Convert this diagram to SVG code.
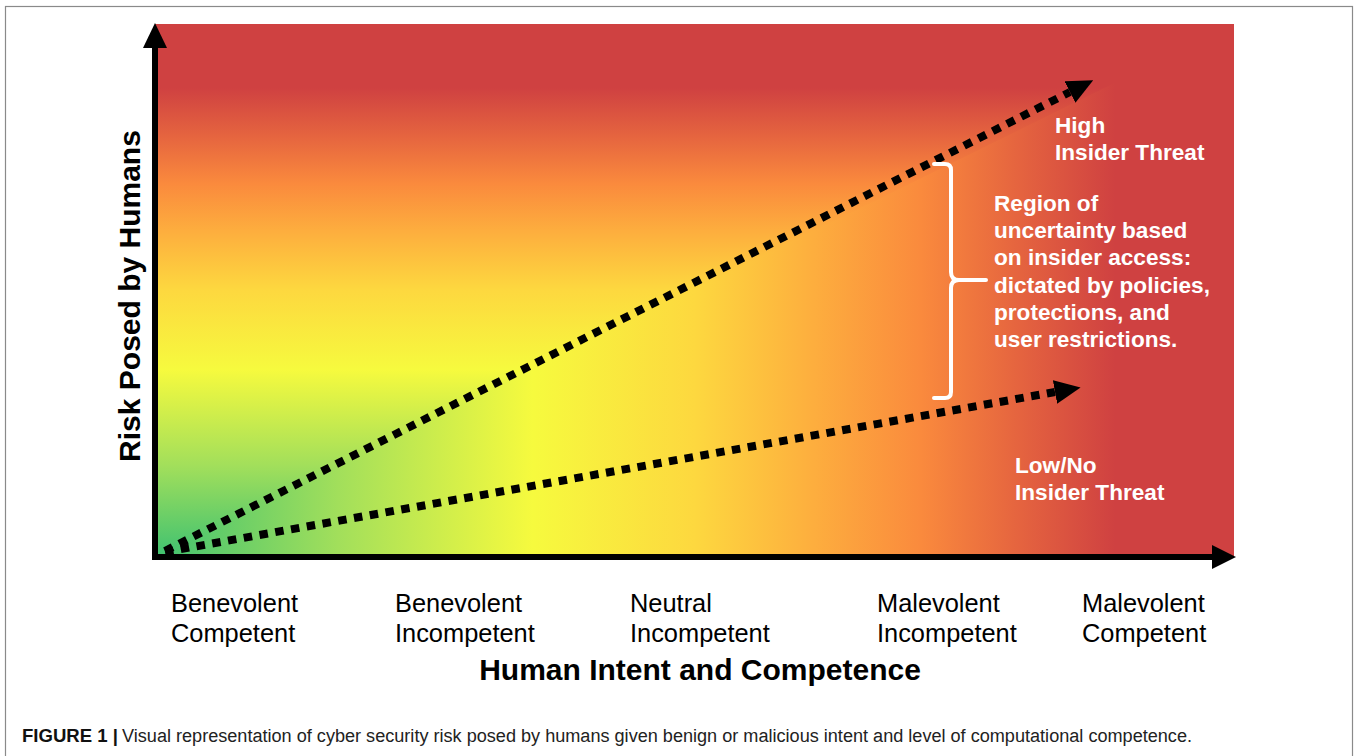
<svg xmlns="http://www.w3.org/2000/svg" width="1359" height="756" viewBox="0 0 1359 756">
  <defs>
    <style>
      .lbl { font-family: "Liberation Sans", Arial, sans-serif; }
      .axis-title { font-family: "Liberation Sans", Arial, sans-serif; font-weight: bold; font-size: 30px; fill: #000; }
      .tick { font-family: "Liberation Sans", Arial, sans-serif; font-size: 25.4px; fill: #000; }
      .note { font-family: "Liberation Sans", Arial, sans-serif; font-weight: bold; font-size: 22.6px; fill: #fff; }
      .dots { fill: none; stroke: #000; stroke-width: 8; stroke-dasharray: 8.5 7.5; }
      .axis { fill: none; stroke: #000; stroke-width: 6; }
      .head { fill: #000; }
    </style>
    <!-- risk colour scale, left to right -->
    <linearGradient id="riskH" gradientUnits="userSpaceOnUse" x1="155" y1="0" x2="1234" y2="0">
      <stop offset="0" stop-color="#40C271"/>
      <stop offset="0.17" stop-color="#A2DF5B"/>
      <stop offset="0.35" stop-color="#F6FA3E"/>
      <stop offset="0.5" stop-color="#FDD83F"/>
      <stop offset="0.61" stop-color="#FDAE3E"/>
      <stop offset="0.71" stop-color="#FA8A3D"/>
      <stop offset="0.8" stop-color="#E5643F"/>
      <stop offset="0.89" stop-color="#CF4141"/>
      <stop offset="1" stop-color="#CF4141"/>
    </linearGradient>
    <!-- same scale, bottom to top -->
    <linearGradient id="riskV" gradientUnits="userSpaceOnUse" x1="0" y1="556" x2="0" y2="24">
      <stop offset="0" stop-color="#40C271"/>
      <stop offset="0.17" stop-color="#A2DF5B"/>
      <stop offset="0.35" stop-color="#F6FA3E"/>
      <stop offset="0.5" stop-color="#FDD83F"/>
      <stop offset="0.61" stop-color="#FDAE3E"/>
      <stop offset="0.7" stop-color="#FA8A3D"/>
      <stop offset="0.79" stop-color="#E5643F"/>
      <stop offset="0.88" stop-color="#CF4141"/>
      <stop offset="1" stop-color="#CF4141"/>
    </linearGradient>
    <marker id="arrow" markerUnits="userSpaceOnUse" markerWidth="26" markerHeight="24" refX="0" refY="12" orient="auto">
      <path d="M0,0 L26,12 L0,24 Z" fill="#000"/>
    </marker>
  </defs>

  <rect x="0" y="0" width="1359" height="756" fill="#fff"/>
  <!-- figure frame -->
  <rect x="5.5" y="6.5" width="1347" height="800" fill="none" stroke="#8a8a8a" stroke-width="1.2"/>

  <!-- risk field: the higher of the two axis risks sets the colour -->
  <g id="field">
    <rect x="155" y="24" width="1079" height="532" fill="url(#riskH)"/>
    <polygon points="155,24 1234,24 155,556" fill="url(#riskV)"/>
  </g>

  <g id="axes">
    <line class="axis" x1="155" y1="559" x2="155" y2="46"/>
    <polygon class="head" points="143,48 167,48 155,23"/>
    <line class="axis" x1="152" y1="557" x2="1213" y2="557"/>
    <polygon class="head" points="1212,545 1212,569 1236,557"/>
  </g>

  <g id="connectors">
    <line class="dots" x1="165" y1="551" x2="1070" y2="92" marker-end="url(#arrow)"/>
    <line class="dots" x1="165" y1="552" x2="1055" y2="392" marker-end="url(#arrow)"/>
  </g>

  <g id="bracket">
    <path d="M934,164 H945 Q951,164 951,170 V272 Q951,280 959,280 H986 M959,280 Q951,280 951,288 V392 Q951,398 945,398 H934" fill="none" stroke="#fff" stroke-width="4" stroke-linecap="round" stroke-linejoin="round"/>
  </g>

  <g id="high-threat">
    <text class="note" x="1055" y="133">High</text>
    <text class="note" x="1055" y="160">Insider Threat</text>
  </g>

  <g id="uncertainty">
    <text class="note" x="994" y="211">Region of</text>
    <text class="note" x="994" y="238">uncertainty based</text>
    <text class="note" x="994" y="265">on insider access:</text>
    <text class="note" x="994" y="293">dictated by policies,</text>
    <text class="note" x="994" y="320">protections, and</text>
    <text class="note" x="994" y="347">user restrictions.</text>
  </g>

  <g id="low-threat">
    <text class="note" x="1015" y="473">Low/No</text>
    <text class="note" x="1015" y="500">Insider Threat</text>
  </g>

  <g id="y-title">
    <text class="axis-title" transform="translate(140,296) rotate(-90)" text-anchor="middle">Risk Posed by Humans</text>
  </g>

  <g id="x-ticks">
    <text class="tick" x="171" y="612">Benevolent</text>
    <text class="tick" x="171" y="642">Competent</text>
    <text class="tick" x="395" y="612">Benevolent</text>
    <text class="tick" x="395" y="642">Incompetent</text>
    <text class="tick" x="630" y="612">Neutral</text>
    <text class="tick" x="630" y="642">Incompetent</text>
    <text class="tick" x="877" y="612">Malevolent</text>
    <text class="tick" x="877" y="642">Incompetent</text>
    <text class="tick" x="1082" y="612">Malevolent</text>
    <text class="tick" x="1082" y="642">Competent</text>
  </g>

  <g id="x-title">
    <text class="axis-title" x="700" y="680" text-anchor="middle">Human Intent and Competence</text>
  </g>

  <g id="caption">
    <text class="lbl" x="22" y="742" font-size="18" font-weight="bold" fill="#111" textLength="96" lengthAdjust="spacingAndGlyphs">FIGURE 1 |</text>
    <text class="lbl" x="122" y="742" font-size="18" fill="#222" textLength="1070" lengthAdjust="spacingAndGlyphs">Visual representation of cyber security risk posed by humans given benign or malicious intent and level of computational competence.</text>
  </g>
</svg>
